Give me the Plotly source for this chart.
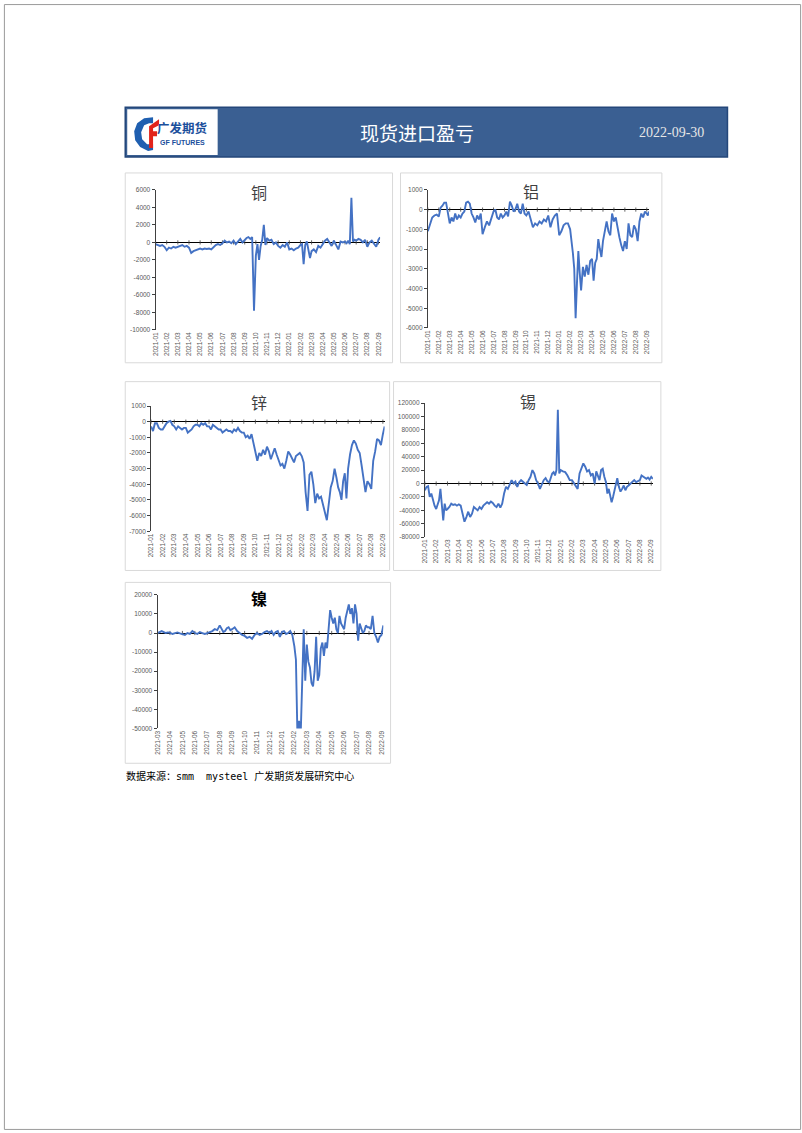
import plotly.graph_objects as go

W, H = 802, 1133

# ---------------- data ----------------
month_labels = ["2021-01", "2021-02", "2021-03", "2021-04", "2021-05", "2021-06", "2021-07",
                "2021-08", "2021-09", "2021-10", "2021-11", "2021-12", "2022-01", "2022-02",
                "2022-03", "2022-04", "2022-05", "2022-06", "2022-07", "2022-08", "2022-09"]
ni_labels = month_labels[2:]

# values grouped by month (one inner list per month label)
cu = [
    [-200, -300, -400, -300, -500],
    [-900, -600, -700, -500, -600],
    [-500, -400, -300, -500, -400],
    [-600, -1200, -1000, -900, -800],
    [-700, -800, -700, -750, -700],
    [-800, -500, -300, -200, -300],
    [-100, 200, 0, 100, -100],
    [200, -200, 100, 400, 0],
    [300, 500, 600, 400, 600, -7800],
    [-1500, -200, -2000, -400, 300, 2000, -300],
    [500, 200, 300, -200, 0],
    [-400, -600, -300, -500, 0],
    [-800, -700, -900, -700, -600],
    [-300, -200, -2500, -300, 100, -800, -1800],
    [-1000, -800, -1100, -400, -600],
    [-200, 200, 400, 0, -400],
    [200, -300, -800, 100, 0],
    [100, -100, 200, -200, 5100, 100, 300],
    [200, 400, 300, 0, 300],
    [-500, 0, 200, -200, -500],
    [300, 600],
]

al = [
    [-1100, -700, -400, -300, -250],
    [-350, 100, 200, 350, 350, -300],
    [-700, -400, -600, -200, -500, -300],
    [-400, -200, -100, 350, 400, 300],
    [-200, -400, -650, -300, -500, -200],
    [-1250, -900, -600, -800, -400],
    [-100, 0, -400, -500, -200, -400],
    [-300, -100, -350, 400, 200, -100],
    [0, 300, -100, -200, 300, -200],
    [-300, -100, -500, -900, -700],
    [-800, -600, -700, -500, -600],
    [-300, -900, -500, -300, -200],
    [-1300, -1100, -800, -700, -700],
    [-1000, -1500, -2200, -3000, -5500, -3700, -2100, -3200],
    [-4100, -2900, -3400, -2800, -3300, -2600],
    [-2500, -3600, -2700, -2500, -1500, -2000, -2400],
    [-1600, -1000, -600, -1100, -1300, -200],
    [-600, -400, -1000, -1400, -1800, -2100],
    [-1600, -2000, -700, -1300, -1400, -800],
    [-1000, -1600, -600, -200, -400, -100],
    [-200, -300, -100],
]

zn = [
    [-300, -600, -100, -100, -400, -500],
    [-500, -300, -100, 0, 50, -200],
    [-300, -500, -300, -400, -500, -400],
    [-400, -700, -600, -500, -300, -200],
    [-200, -300, -100, -200, -100, -300],
    [-300, -500, -200, -300, -400, -500],
    [-500, -700, -600, -500, -600, -600],
    [-700, -500, -600, -400, -600, -700],
    [-700, -1000, -900, -1100, -800, -1400],
    [-1800, -2500, -2000, -2200, -1800, -2100],
    [-1600, -1900, -2400, -2000, -1700, -2100],
    [-2500, -2800, -2700, -3000, -2500, -1900],
    [-2100, -2400, -2600, -2200, -2100, -2000],
    [-2200, -2600, -4500, -5700, -3400, -3200],
    [-4000, -5200, -4600, -4900, -4800, -5400],
    [-5800, -6300, -5000, -4200, -3800, -3000],
    [-3600, -4200, -4500, -5000, -3800, -3300, -4900],
    [-3000, -2100, -1500, -1200, -1400, -1800],
    [-2000, -2800, -3700, -4500, -3800, -4000],
    [-4300, -2500, -1900, -1100, -1200, -1500],
    [-800, -300],
]

sn = [
    [-10000, -5000, -4000, -20000, -15000, -25000, -33000],
    [-38000, -30000, -25000, -8000, -30000, -55000, -30000, -40000],
    [-38000, -35000, -30000, -32000, -31000, -33000],
    [-31000, -33000, -45000, -57000, -50000, -42000],
    [-50000, -45000, -35000, -38000, -40000, -35000],
    [-38000, -33000, -30000, -28000, -30000, -27000],
    [-29000, -33000, -35000, -30000, -36000, -30000],
    [-15000, -5000, -8000, 0, 5000, 0],
    [3000, -5000, 2000, 5000, 3000, 0],
    [-2000, 5000, 10000, 20000, 15000, 5000],
    [0, -8000, -2000, 5000, 8000, 3000],
    [2000, 10000, 15000, 17000, 12000, 20000, 110000, 15000],
    [20000, 18000, 17000, 12000, 5000],
    [5000, 0, -3000, -8000, 15000, 22000],
    [30000, 25000, 18000, 20000, 12000, 15000],
    [0, 18000, 10000, 5000, 20000, 22000, 10000],
    [2000, -15000, -8000, -18000, -28000, -20000, -10000, 0],
    [8000, -5000, -12000, -8000, -3000, -10000, -5000],
    [-3000, 0, 3000, 5000, 2000, 3000],
    [5000, 12000, 10000, 8000, 7000, 9000, 6000],
    [10000, 7000],
]

ni = [
    [0, 500, 1000, 500, 0, 300],
    [200, -500, 0, 300, -200],
    [-500, -1000, 0, -500, 1000],
    [0, -500, 500, 0, -500],
    [0, 500, 1000, 2000, 1500],
    [4000, 2000, 500, 1000, 2500, 3000, 1500],
    [2000, 3000, 1000, 0, -1000],
    [-1500, -2500, -2000, -3000, -1000],
    [0, -1000, -500, 500, 1000],
    [0, 1000, -1000, 500, 1000, -2000],
    [500, 1000, -500, 0, 1000, -1000],
    [-7000, -14000, -55000, -46000, -55000, -20000, 2000, -25000],
    [-6000, -15000, -18000, -26000, -28000, -20000, -2000, -25000],
    [-22000, -8000, -5000, -12000, -5000, -8000, 5000, 12000],
    [8000, 5000, 8000, 2000, 0, 9000, 5000, 3000],
    [2000, 8000, 12000, 15000, 10000, 13000, 5000, 15000],
    [10000, -4000, 5000, 2000, 0, 1000, 4000, 3000],
    [3000, 2000, 9000, 0, -2000, -5000, -2000],
    [-1000, 4000],
]

cu_ticks = [-10000, -8000, -6000, -4000, -2000, 0, 2000, 4000, 6000]
al_ticks = [-6000, -5000, -4000, -3000, -2000, -1000, 0, 1000]
zn_ticks = [-7000, -6000, -5000, -4000, -3000, -2000, -1000, 0, 1000]
sn_ticks = [-80000, -60000, -40000, -20000, 0, 20000, 40000, 60000, 80000, 100000, 120000]
ni_ticks = [-50000, -40000, -30000, -20000, -10000, 0, 10000, 20000]


def flatten(months, last_w=0.3):
    xs, ys = [], []
    n = len(months)
    for m, vals in enumerate(months):
        w = last_w if m == n - 1 else 1.0
        k = len(vals)
        for j, v in enumerate(vals):
            xs.append(m + j * w / k)
            ys.append(v)
    return xs, ys


def hx(x):
    return x / W


def hy(y):
    return 1 - y / H


# panel definitions: (name, data, labels, yticks, plot box px (x0,x1,y0,y1), frame px, title pos, title style)
panels = [
    ("铜", cu, month_labels, cu_ticks, (152.5, 378.5, 187, 328), (122, 391, 170, 361), (257, 189), False),
    ("铝", al, month_labels, al_ticks, (426.5, 649, 187, 326), (399, 662, 170, 361), (530, 188), False),
    ("锌", zn, month_labels, zn_ticks, (148, 383, 404.5, 530.5), (122, 388, 380, 570), (257, 400), False),
    ("锡", sn, month_labels, sn_ticks, (423.5, 653, 401.5, 536.5), (392, 661, 380, 570), (527, 399), False),
    ("镍", ni, ni_labels, ni_ticks, (154.5, 381.7, 594.5, 729), (122, 389, 582, 764), (257, 598), True),
]

fig = go.Figure()
shapes = []
annotations = []
layout_axes = {}

# page border
shapes.append(dict(type="rect", xref="paper", yref="paper", x0=0.0005, x1=0.9995, y0=0.0005, y1=0.9995,
                   line=dict(color="#9A9A9A", width=1), fillcolor="rgba(0,0,0,0)"))

for i, (name, data, labels, yt, box, frame, tpos, bold) in enumerate(panels, start=1):
    xs, ys = flatten(data)
    xa = "x" if i == 1 else f"x{i}"
    ya = "y" if i == 1 else f"y{i}"
    tv = list(range(len(labels)))
    fig.add_trace(go.Scatter(x=tv, y=[0] * len(tv), mode="markers", xaxis=xa, yaxis=ya,
                             marker=dict(symbol="line-ns", size=3, line=dict(width=0.8, color="#404040")),
                             hoverinfo="skip"))
    fig.add_trace(go.Scatter(x=xs, y=ys, mode="lines", xaxis=xa, yaxis=ya,
                             line=dict(color="#4472C4", width=1.9), hoverinfo="skip"))
    x0, x1, y0, y1 = box
    lo, hi = min(yt), max(yt)
    layout_axes["xaxis" if i == 1 else f"xaxis{i}"] = dict(
        domain=[hx(x0), hx(x1)], anchor=ya, range=[0, max(xs)],
        tickvals=tv, ticktext=labels, tickangle=-90,
        tickfont=dict(size=6.5, color="#595959", family="Liberation Sans"),
        showline=False, showgrid=False, zeroline=False, ticks="", fixedrange=True)
    layout_axes["yaxis" if i == 1 else f"yaxis{i}"] = dict(
        domain=[hy(y1), hy(y0)], anchor=xa, range=[lo, hi],
        tickvals=yt, ticktext=[str(v) for v in yt],
        tickfont=dict(size=6.5, color="#595959", family="Liberation Sans"),
        showline=True, linecolor="#404040", linewidth=1, ticks="outside", ticklen=3,
        tickcolor="#404040", showgrid=False, zeroline=True, zerolinecolor="#000000",
        zerolinewidth=1, fixedrange=True)
    fx0, fx1, fy0, fy1 = frame
    shapes.append(dict(type="rect", xref="paper", yref="paper", x0=hx(fx0), x1=hx(fx1),
                       y0=hy(fy1), y1=hy(fy0), line=dict(color="#D9D9D9", width=1),
                       fillcolor="rgba(0,0,0,0)"))
    annotations.append(dict(x=hx(tpos[0]), y=hy(tpos[1]), xref="paper", yref="paper",
                            text=f"<b>{name}</b>" if bold else name, showarrow=False,
                            font=dict(size=16, color="#000000" if bold else "#404040",
                                      family="Noto Sans CJK SC"),
                            xanchor="center", yanchor="middle"))

# header
shapes.append(dict(type="rect", xref="paper", yref="paper", x0=hx(122), x1=hx(728), y0=hy(154), y1=hy(104),
                   fillcolor="#3A5F92", line=dict(color="#24477A", width=1.5), layer="below"))
shapes.append(dict(type="rect", xref="paper", yref="paper", x0=hx(124), x1=hx(215), y0=hy(152), y1=hy(106),
                   fillcolor="#FFFFFF", line=dict(width=0), layer="below"))


def ppath(pts):
    s = "M " + " L ".join(f"{hx(px):.5f},{hy(py):.5f}" for px, py in pts) + " Z"
    return s


# logo emblem: blue "G"-like curve and red "F" bars
shapes.append(dict(type="path", xref="paper", yref="paper",
                   path=ppath([(150, 114), (141, 115), (134, 120), (131, 128), (132, 137), (137, 144),
                               (145, 148), (150, 147), (150, 141), (144, 141), (139, 136), (138, 129),
                               (141, 122), (146, 120), (150, 120)]),
                   fillcolor="#1F5FB0", line=dict(width=0)))
shapes.append(dict(type="path", xref="paper", yref="paper",
                   path=ppath([(146, 123), (156, 116), (156, 122), (150, 125), (150, 128), (154, 128),
                               (154, 133), (150, 133), (150, 145), (146, 145)]),
                   fillcolor="#E2231A", line=dict(width=0)))
annotations.append(dict(x=hx(180), y=hy(124), xref="paper", yref="paper", text="<b>广发期货</b>",
                        showarrow=False, font=dict(size=12.5, color="#1B4F9C", family="Noto Sans CJK SC"),
                        xanchor="center", yanchor="middle"))
annotations.append(dict(x=hx(180), y=hy(139), xref="paper", yref="paper", text="<b>GF FUTURES</b>",
                        showarrow=False, font=dict(size=7, color="#1B4F9C", family="Liberation Sans"),
                        xanchor="center", yanchor="middle"))
annotations.append(dict(x=hx(416), y=hy(129), xref="paper", yref="paper", text="现货进口盈亏",
                        showarrow=False, font=dict(size=19, color="#FFFFFF", family="Noto Sans CJK SC"),
                        xanchor="center", yanchor="middle"))
annotations.append(dict(x=hx(672), y=hy(129), xref="paper", yref="paper", text="2022-09-30",
                        showarrow=False, font=dict(size=14, color="#E6E6E6", family="Liberation Serif"),
                        xanchor="center", yanchor="middle"))
annotations.append(dict(x=hx(121), y=hy(777), xref="paper", yref="paper",
                        text="数据来源：smm  mysteel 广发期货发展研究中心",
                        showarrow=False, font=dict(size=10, color="#000000",
                                                   family="DejaVu Sans Mono, Noto Sans CJK SC"),
                        xanchor="left", yanchor="middle"))

fig.update_layout(width=W, height=H, margin=dict(l=0, r=0, t=0, b=0),
                  paper_bgcolor="#FFFFFF", plot_bgcolor="rgba(0,0,0,0)", showlegend=False,
                  shapes=shapes, annotations=annotations, **layout_axes)

fig.write_html("out.html")
